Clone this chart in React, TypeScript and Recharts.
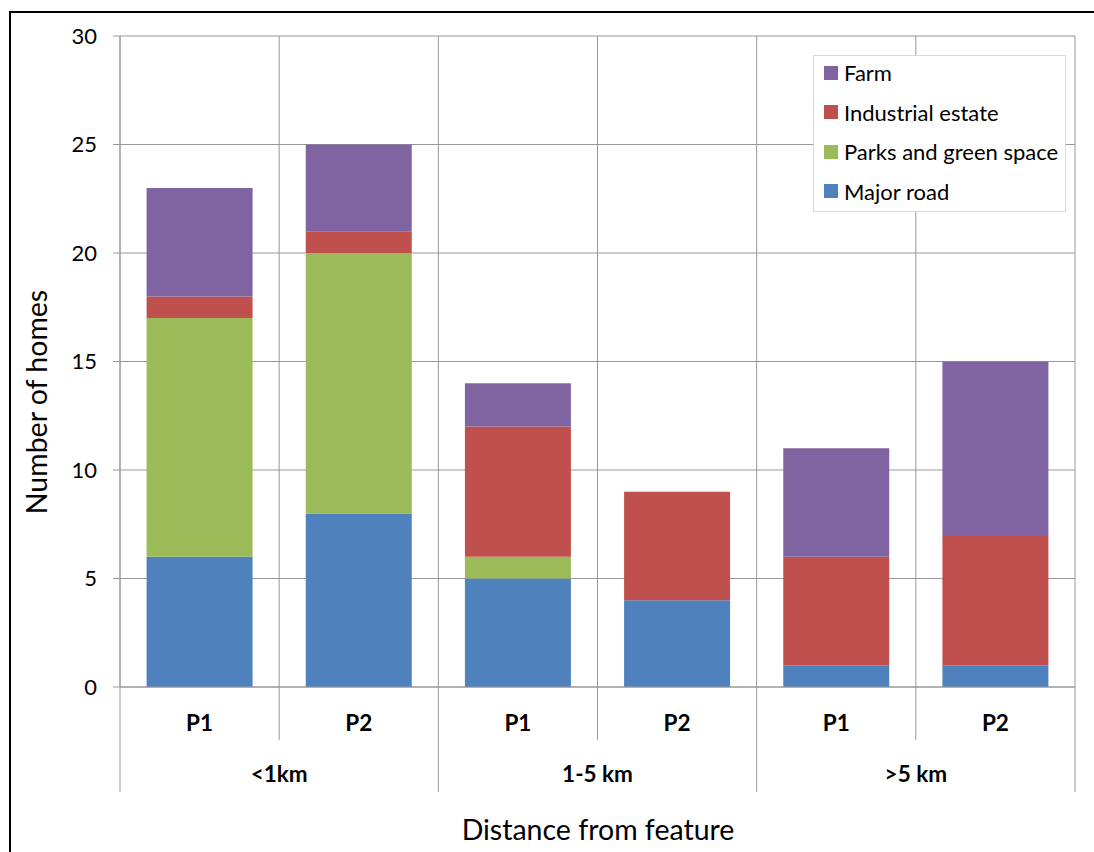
import { BarChart, Bar, XAxis, YAxis, CartesianGrid, Legend } from "recharts";

// Homes near each kind of feature, split by distance band and period.
const DISTANCES = ["<1km", "<1km", "1-5 km", "1-5 km", ">5 km", ">5 km"];
const PERIODS = ["P1", "P2", "P1", "P2", "P1", "P2"];
const MAJOR_ROAD = [6, 8, 5, 4, 1, 1];
const PARKS = [11, 12, 1, 0, 0, 0];
const INDUSTRIAL = [1, 1, 6, 5, 5, 6];
const FARM = [5, 4, 2, 0, 5, 8];
const Y_TICKS = [0, 5, 10, 15, 20, 25, 30];

// bottom-to-top stacking order
const SERIES = [
  { key: "road", name: "Major road", color: "#4F81BD", values: MAJOR_ROAD },
  { key: "parks", name: "Parks and green space", color: "#9BBB59", values: PARKS },
  { key: "industrial", name: "Industrial estate", color: "#C0504D", values: INDUSTRIAL },
  { key: "farm", name: "Farm", color: "#8064A2", values: FARM },
];

const rows = PERIODS.map((period, i) => {
  const row: Record<string, string | number> = {
    id: `${DISTANCES[i]}|${period}`,
    period,
    distance: DISTANCES[i],
  };
  SERIES.forEach((s) => (row[s.key] = s.values[i]));
  return row;
});

const FONT = "Lato, Carlito, Calibri, sans-serif";
const GRID = "#989898";

// two-level category axis: period on the first row, distance band below,
// with divider lines between the cells
function CategoryTick(props: any) {
  const { x, y, payload, width } = props;
  const i: number = payload.index;
  const half: number = payload.offset ?? width / rows.length / 2;
  const row = rows[i];
  const groupStart = i === 0 || rows[i - 1].distance !== row.distance;
  const isLast = i === rows.length - 1;
  let span = 1;
  while (i + span < rows.length && rows[i + span].distance === row.distance) span++;
  return (
    <g>
      <line x1={x - half} x2={x - half} y1={y} y2={y + (groupStart ? 105 : 53)} stroke={GRID} />
      {isLast && <line x1={x + half} x2={x + half} y1={y} y2={y + 105} stroke={GRID} />}
      <text x={x} y={y + 38} textAnchor="middle" dominantBaseline="middle" fontFamily={FONT} fontSize={22.5} fontWeight="bold" fill="#000">
        {row.period}
      </text>
      {groupStart && (
        <text x={x - half + half * span} y={y + 89} textAnchor="middle" dominantBaseline="middle" fontFamily={FONT} fontSize={22.5} fontWeight="bold" fill="#000">
          {row.distance}
        </text>
      )}
    </g>
  );
}

// vertical grid sits on the category boundaries, not the band centres
const boundaryLines = ({ xAxis, offset }: any) => {
  const scale = xAxis?.scale;
  const at =
    typeof scale === "function"
      ? (v: any) => scale(v)
      : scale && typeof scale.map === "function"
        ? (v: any) => scale.map(v)
        : null;
  const bw = scale && typeof scale.bandwidth === "function" ? scale.bandwidth() : null;
  if (at && bw != null) {
    const starts = rows.map((r) => at(r.id));
    if (starts.every((s) => Number.isFinite(s))) {
      return [...starts, starts[starts.length - 1] + bw];
    }
  }
  const w = offset.width / rows.length;
  return [...rows.map((_, i) => offset.left + i * w), offset.left + offset.width];
};

// legend lists the series top-of-stack first
function LegendBox() {
  const items = [...SERIES].reverse();
  return (
    <div style={{ border: "1px solid #d9d9d9", background: "#fff", width: 253, height: 157, boxSizing: "border-box", overflow: "hidden" }}>
      <div style={{ marginTop: -3 }}>
        {items.map((s) => (
          <div key={s.key} style={{ display: "flex", alignItems: "center", height: 39.5, paddingLeft: 10, fontFamily: FONT, fontSize: 22, color: "#000", whiteSpace: "nowrap" }}>
            <span style={{ width: 14, height: 14, background: s.color, marginRight: 6, display: "inline-block", flex: "none" }} />
            {s.name}
          </div>
        ))}
      </div>
    </div>
  );
}

export default function App() {
  return (
    <div style={{ position: "absolute", left: 0, top: 0, width: 1094, height: 852, overflow: "hidden", background: "#fff" }}>
      <div style={{ position: "absolute", left: 9, top: 11, width: 1200, height: 1000, border: "2px solid #000" }} />
      <div style={{ position: "absolute", left: 0, top: 0 }}>
        <BarChart width={1094} height={852} data={rows} margin={{ top: 36, right: 19, bottom: 0, left: 0 }} barCategoryGap="16.7%">
          <CartesianGrid stroke={GRID} verticalCoordinatesGenerator={boundaryLines} />
          <XAxis
            dataKey="id"
            height={165}
            interval={0}
            tickLine={false}
            tickSize={0}
            tickMargin={0}
            axisLine={{ stroke: GRID }}
            tick={<CategoryTick />}
            label={{
              content: () => (
                <text x={598} y={833} textAnchor="middle" dominantBaseline="middle" fontFamily={FONT} fontSize={28.5} fill="#000">
                  Distance from feature
                </text>
              ),
            }}
          />
          <YAxis
            width={120}
            domain={[0, 30]}
            ticks={Y_TICKS}
            interval={0}
            tickSize={7}
            tickMargin={16}
            axisLine={{ stroke: GRID }}
            tickLine={{ stroke: GRID }}
            tick={{ fontFamily: FONT, fontSize: 22, fill: "#000" }}
            label={{
              content: () => (
                <text x={40} y={402} transform="rotate(-90 40 402)" textAnchor="middle" dominantBaseline="middle" fontFamily={FONT} fontSize={28.5} fill="#000">
                  Number of homes
                </text>
              ),
            }}
          />
          <Legend
            layout="horizontal"
            align="center"
            verticalAlign="middle"
            content={<LegendBox />}
            wrapperStyle={{ position: "absolute", left: 813, top: 55, width: 253, height: 157 }}
          />
          {SERIES.map((s) => (
            <Bar key={s.key} dataKey={s.key} name={s.name} stackId="homes" fill={s.color} isAnimationActive={false} />
          ))}
        </BarChart>
      </div>
    </div>
  );
}
